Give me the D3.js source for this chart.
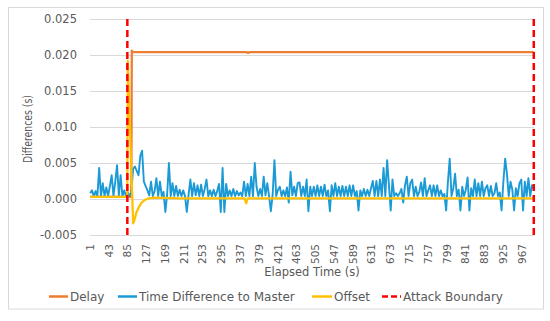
<!DOCTYPE html>
<html>
<head>
<meta charset="utf-8">
<script src="https://cdn.jsdelivr.net/npm/d3@7"></script>
<style>
body { margin: 0; background: #fff; }
text { font-family: "DejaVu Sans", sans-serif; fill: #595959; }
</style>
</head>
<body>
<svg id="chart" width="550" height="321"></svg>
<script>
// categories (elapsed time, s)
var nPoints = 993;
var xTickLabels = [1,43,85,127,169,211,253,295,337,379,421,463,505,547,589,631,673,715,757,799,841,883,925,967];
var yTicks = [-0.005, 0, 0.005, 0.010, 0.015, 0.020, 0.025];
var yTickLabels = ["-0.005","0.000","0.005","0.010","0.015","0.020","0.025"];

// Delay [time, value]
var delay = [[1,0.0003],[93,0.0003],[94,0.0206],[96,0.0204],[350,0.0204],[354,0.0203],[358,0.0204],[993,0.0204]];

// Offset [time, value]
var offset = [[1,0.0003],[84,0.0003],[85,0.0192],[89,0.0118],[93,0.0040],[97,-0.0034],[100,-0.0029],[104,-0.0019],
  [110,-0.0011],[116,-0.0005],[124,-0.0001],[132,0.0001],[145,0.0002],[200,0.0001],[346,0.0001],[350,-0.0006],
  [353,0.0001],[993,0.0001]];

// Time Difference to Master, one reading every 4 s starting at t = 1
var diffStep = 4;
var timeDiff = [
  0.0008, 0.0012, 0.0004, 0.0011, 0.0004, 0.0043, 0.0004, 0.0022, 0.0004, 0.0016,
  0.0004, 0.0018, 0.0033, 0.0004, 0.0024, 0.0047, 0.0005, 0.0033, 0.0004, 0.0012,
  0.0004, 0.0009, 0.0004, 0.0010, 0.0042, 0.0045, 0.0039, 0.0033, 0.0060, 0.0067,
  0.0024, 0.0018, 0.0012, 0.0005, 0.0024, 0.0004, 0.0011, 0.0029, 0.0004, 0.0024,
  0.0004, 0.0010, -0.0018, 0.0006, 0.0050, 0.0004, 0.0022, 0.0004, 0.0018, 0.0004,
  0.0013, 0.0004, 0.0012, 0.0004, -0.0018, 0.0006, 0.0027, 0.0004, 0.0022, 0.0005,
  0.0019, 0.0004, 0.0020, 0.0004, 0.0014, 0.0027, 0.0004, 0.0012, 0.0004, 0.0013,
  0.0004, 0.0011, 0.0021, -0.0018, 0.0043, -0.0018, 0.0021, 0.0004, 0.0012, 0.0004,
  0.0014, 0.0004, 0.0011, 0.0005, 0.0009, 0.0004, 0.0024, 0.0004, 0.0021, 0.0004,
  0.0031, 0.0004, 0.0050, 0.0017, 0.0004, 0.0014, 0.0004, 0.0031, 0.0005, 0.0022,
  0.0004, -0.0017, 0.0006, 0.0054, 0.0004, 0.0013, 0.0017, 0.0004, 0.0012, 0.0004,
  0.0016, -0.0005, 0.0038, 0.0005, 0.0017, 0.0004, 0.0022, 0.0023, 0.0004, 0.0017,
  0.0004, 0.0027, -0.0017, 0.0017, 0.0004, 0.0017, 0.0004, 0.0019, 0.0004, 0.0017,
  0.0004, 0.0020, 0.0004, 0.0012, -0.0017, 0.0019, 0.0004, 0.0022, 0.0004, 0.0017,
  0.0004, 0.0018, 0.0004, 0.0017, 0.0004, 0.0019, 0.0004, 0.0019, 0.0004, 0.0011,
  -0.0016, 0.0012, 0.0004, 0.0014, 0.0004, 0.0013, 0.0004, 0.0015, 0.0025, 0.0004,
  0.0025, 0.0004, 0.0027, 0.0004, 0.0043, 0.0004, 0.0054, 0.0020, -0.0016, 0.0027,
  0.0004, 0.0008, 0.0004, 0.0008, 0.0014, -0.0005, 0.0019, 0.0031, 0.0004, 0.0022,
  0.0027, 0.0004, 0.0017, 0.0004, 0.0010, 0.0023, 0.0004, 0.0029, 0.0004, 0.0012,
  0.0019, 0.0004, 0.0019, 0.0004, 0.0019, 0.0004, 0.0012, 0.0004, 0.0007, -0.0016,
  0.0024, 0.0056, 0.0004, 0.0015, 0.0035, 0.0004, 0.0013, -0.0016, 0.0017, 0.0004,
  0.0013, 0.0030, -0.0016, 0.0015, 0.0004, 0.0027, 0.0004, 0.0022, 0.0004, 0.0024,
  0.0004, 0.0015, 0.0019, 0.0004, 0.0018, 0.0004, 0.0008, 0.0022, 0.0004, 0.0009,
  -0.0016, 0.0024, 0.0056, 0.0035, 0.0004, 0.0024, 0.0013, -0.0016, 0.0015, 0.0004,
  0.0022, 0.0027, -0.0016, 0.0024, 0.0004, 0.0029, 0.0004, 0.0019, 0.0014
];

// Attack boundary times
var attackTimes = [84, 993];

var colors = {delay: '#ED7D31', diff: '#1B9AD6', offset: '#FFC000', attack: '#FF0000'};

var svg = d3.select('#chart');
var plot = {left: 90, right: 534, top: 19, bottom: 235};

var x = d3.scaleLinear().domain([0.5, nPoints + 0.5]).range([plot.left, plot.right]);
var y = d3.scaleLinear().domain([-0.005, 0.025]).range([plot.bottom, plot.top]);

// chart frame
svg.append('rect')
	.attr('x', 8.5).attr('y', 7.5).attr('width', 535).attr('height', 301.5)
	.attr('fill', '#fff').attr('stroke', '#d9d9d9').attr('stroke-width', 1);

// gridlines
svg.append('g').selectAll('line').data(yTicks).join('line')
	.attr('x1', plot.left).attr('x2', plot.right)
	.attr('y1', function(d){ return Math.round(y(d)) + 0.5; })
	.attr('y2', function(d){ return Math.round(y(d)) + 0.5; })
	.attr('stroke', '#d9d9d9').attr('stroke-width', 1);

// y labels
svg.append('g').selectAll('text').data(yTicks).join('text')
	.attr('x', 77).attr('y', function(d){ return y(d); })
	.attr('dy', '0.36em')
	.attr('text-anchor', 'end')
	.style('font-size', '11.5px')
	.text(function(d, i){ return yTickLabels[i]; });

// x labels, rotated
svg.append('g').selectAll('text').data(xTickLabels).join('text')
	.attr('transform', function(d){ return 'translate(' + (x(d) + 3.5) + ',244) rotate(-90)'; })
	.attr('text-anchor', 'end')
	.style('font-size', '10.5px')
	.text(function(d){ return d; });

// axis titles
svg.append('text')
	.attr('x', (plot.left + plot.right) / 2).attr('y', 275.5)
	.attr('text-anchor', 'middle')
	.style('font-size', '11.5px')
	.text('Elapsed Time (s)');

svg.append('text')
	.attr('transform', 'translate(32,129) rotate(-90)')
	.attr('text-anchor', 'middle')
	.attr('textLength', 68).attr('lengthAdjust', 'spacingAndGlyphs')
	.style('font-size', '11.5px')
	.text('Differences (s)');

// series
var line = d3.line().x(function(d){ return x(d[0]); }).y(function(d){ return y(d[1]); });

svg.append('path')
	.attr('d', line(delay))
	.attr('fill', 'none').attr('stroke', colors.delay).attr('stroke-width', 2.25)
	.attr('stroke-linejoin', 'round');

var diffPts = timeDiff.map(function(v, i){ return [1 + i * diffStep, v]; });
svg.append('path')
	.attr('d', line(diffPts))
	.attr('fill', 'none').attr('stroke', colors.diff).attr('stroke-width', 1.9)
	.attr('stroke-linejoin', 'round');

svg.append('path')
	.attr('d', line(offset))
	.attr('fill', 'none').attr('stroke', colors.offset).attr('stroke-width', 2.25)
	.attr('stroke-linejoin', 'round');

attackTimes.forEach(function(t){
	svg.append('path')
		.attr('d', line([[t, 0.025], [t, -0.005]]))
		.attr('stroke', colors.attack).attr('stroke-width', 2.5)
		.attr('stroke-dasharray', '7,4')
		.attr('fill', 'none');
});

// legend
var legend = [
	{name: 'Delay', color: colors.delay, x1: 49, x2: 68, dash: null},
	{name: 'Time Difference to Master', color: colors.diff, x1: 118, x2: 137, dash: null},
	{name: 'Offset', color: colors.offset, x1: 312, x2: 332, dash: null},
	{name: 'Attack Boundary', color: colors.attack, x1: 382, x2: 401, dash: '6,3'}
];
var lg = svg.append('g');
legend.forEach(function(l){
	lg.append('line')
		.attr('x1', l.x1).attr('x2', l.x2).attr('y1', 296.5).attr('y2', 296.5)
		.attr('stroke', l.color).attr('stroke-width', 2.5)
		.attr('stroke-dasharray', l.dash);
	lg.append('text')
		.attr('x', l.x2 + 2).attr('y', 300.5)
		.style('font-size', '12px')
		.text(l.name);
});
</script>
</body>
</html>
